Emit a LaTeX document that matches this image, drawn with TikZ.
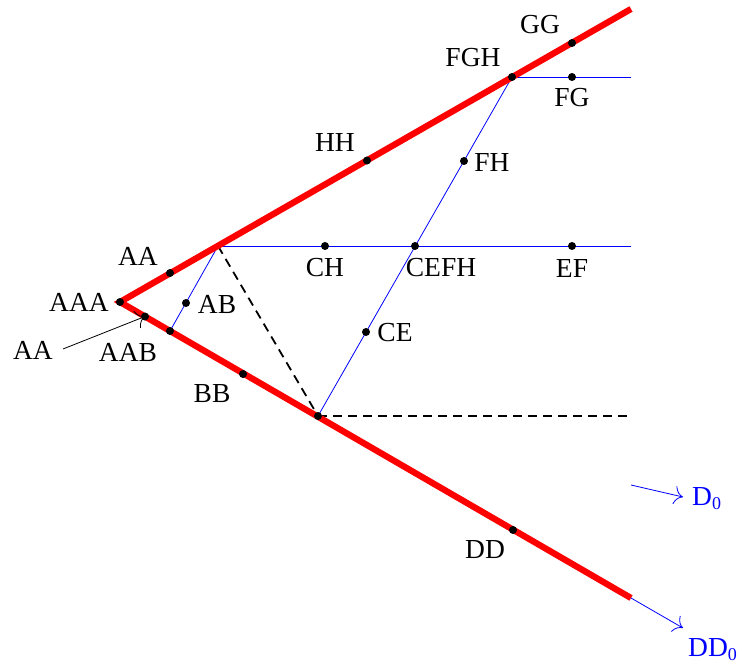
\documentclass[tikz,border=0pt]{standalone}
\usepackage{fontspec}
\setmainfont{Liberation Serif}
\usetikzlibrary{arrows.meta}
\begin{document}
\begin{tikzpicture}[x=1pt,y=-1pt,
  dot/.style={circle,fill=black,inner sep=0pt,minimum size=8pt},
  lbl/.style={font=\fontsize{27.5}{30}\selectfont, inner sep=0pt, anchor=center},
  redline/.style={red,line width=6.3pt},
  blueline/.style={blue,line width=0.8pt},
  tip/.style={-{To[scale=2.6]}},
  dashline/.style={black,line width=1.8pt,dash pattern=on 9pt off 6pt}]
\useasboundingbox (0,0) rectangle (744,666);
% key points
\coordinate (O) at (120,302);
\coordinate (U) at (631,9);
\coordinate (L) at (631,598);
\coordinate (P) at (218,246);
\coordinate (Q) at (170,331);
\coordinate (R) at (318,416);
\coordinate (F) at (512,77);
\coordinate (Pe) at (631,246);
\coordinate (Fe) at (631,77);
\coordinate (Re) at (631,416);
\coordinate (A1) at (170,273);
\coordinate (A2) at (145,316.5);
\coordinate (HHp) at (367,160.5);
\coordinate (GGp) at (572,43);
\coordinate (FGp) at (572,77);
\coordinate (ABp) at (186,303);
\coordinate (BBp) at (243,374);
\coordinate (DDp) at (513,530);
\coordinate (CHp) at (325,246);
\coordinate (CEFHp) at (415,246);
\coordinate (EFp) at (572,246);
\coordinate (CEp) at (366,332);
\coordinate (FHp) at (464,161);
\coordinate (d0s) at (631,485);
\coordinate (d0e) at (683,497);
\coordinate (dd0e) at (683,628);
\coordinate (aas) at (63,349);
% lines
\draw[blueline] (P) -- (Pe);
\draw[blueline] (F) -- (Fe);
\draw[blueline] (R) -- (F);
\draw[blueline] (P) -- (Q);
\draw[dashline] (P) -- (R);
\draw[dashline] (R) -- (Re);
\draw[redline] (U) -- (O) -- (L);
\draw[blueline,tip] (L) -- (dd0e);
\draw[blueline,tip] (d0s) -- (d0e);
\draw[black,line width=0.8pt,tip] (aas) -- (A2);
% dots
\foreach \p in {O,A1,A2,Q,HHp,F,GGp,FGp,ABp,BBp,R,DDp,CHp,CEFHp,EFp,CEp,FHp}
  \node[dot] at (\p) {};
% labels
\node[lbl] (tAA) at (138,256) {AA};
\node[lbl] (tAAA) at (79,302) {AAA};
\node[lbl] (tAAl) at (33,350) {AA};
\node[lbl] (tAAB) at (128,352) {AAB};
\node[lbl] (tAB) at (217,304) {AB};
\node[lbl] (tBB) at (212,394) {BB};
\node[lbl] (tHH) at (335,142) {HH};
\node[lbl] (tCH) at (325,268) {CH};
\node[lbl] (tCEFH) at (441,268) {CEFH};
\node[lbl] (tEF) at (572,268) {EF};
\node[lbl] (tCE) at (395,333) {CE};
\node[lbl] (tFH) at (492,162) {FH};
\node[lbl] (tFGH) at (473,58) {FGH};
\node[lbl] (tGG) at (540,25) {GG};
\node[lbl] (tFG) at (572,98) {FG};
\node[lbl] (tDD) at (485,550) {DD};
\node[lbl,anchor=base west,blue] (tD0) at (692,505) {D\raisebox{-4pt}{\fontsize{18}{20}\selectfont 0}};
\node[lbl,anchor=base west,blue] (tDD0) at (688,656) {DD\raisebox{-4pt}{\fontsize{18}{20}\selectfont 0}};
\end{tikzpicture}
\end{document}
